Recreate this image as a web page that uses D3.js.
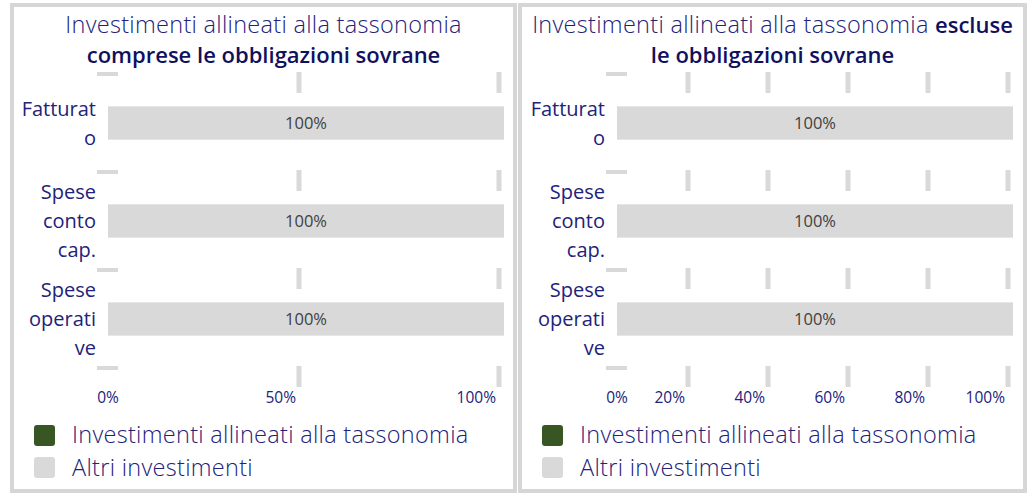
<!DOCTYPE html>
<html>
<head>
<meta charset="utf-8">
<script src="https://cdn.jsdelivr.net/npm/d3@7"></script>
<style>
  body { margin: 0; background: #fff; }
  svg { display: block; }
  text { font-family: "Open Sans", Lato, sans-serif; }
</style>
</head>
<body>
<svg id="chart" width="1031" height="493"></svg>
<script>
var categories = ["Fatturato", "Spese conto cap.", "Spese operative"];
var categoryLines = [["Fatturat", "o"], ["Spese", "conto", "cap."], ["Spese", "operati", "ve"]];
var alignedWithSov = [0, 0, 0];
var otherWithSov = [1, 1, 1];
var alignedNoSov = [0, 0, 0];
var otherNoSov = [1, 1, 1];
var ticksWithSov = [0, 0.5, 1];
var ticksNoSov = [0, 0.2, 0.4, 0.6, 0.8, 1];
var legendLabels = ["Investimenti allineati alla tassonomia", "Altri investimenti"];
var legendColors = ["#375623", "#d9d9d9"];

var navy = "#22227a";
var navyDark = "#10105e";
var grid = "#d9d9d9";

var panels = [
  {
    left: 10, right: 517, plotLeft: 108,
    title: [[["Investimenti allineati alla tassonomia", false]], [["comprese le obbligazioni sovrane", true]]],
    aligned: alignedWithSov, other: otherWithSov, ticks: ticksWithSov
  },
  {
    left: 518, right: 1027, plotLeft: 617,
    title: [[["Investimenti allineati alla tassonomia ", false], ["escluse", true]], [["le obbligazioni sovrane", true]]],
    aligned: alignedNoSov, other: otherNoSov, ticks: ticksNoSov
  }
];

var svg = d3.select("#chart");
var fmt = d3.format(".0%");

function drawPanel(p) {
  var g = svg.append("g");
  var cx = (p.left + p.right) / 2;

  g.append("rect")
    .attr("x", p.left + 2).attr("y", 5)
    .attr("width", p.right - p.left - 4).attr("height", 486)
    .attr("fill", "none").attr("stroke", "#d6d6d6").attr("stroke-width", 4);

  // title, two lines, some parts bold
  p.title.forEach(function (line, i) {
    var t = g.append("text")
      .attr("x", cx).attr("y", 33 + i * 30)
      .attr("text-anchor", "middle");
    line.forEach(function (part) {
      t.append("tspan")
        .text(part[0])
        .attr("fill", part[1] ? navyDark : navy)
        .style("font-size", part[1] ? "22px" : "23.5px")
        .style("letter-spacing", part[1] ? "0px" : "0.3px")
        .style("font-weight", part[1] ? 600 : 300);
    });
  });

  var x = d3.scaleLinear().domain([0, 1]).range([p.plotLeft, p.plotLeft + 396]);
  // excel draws its gridlines a few pixels left of the bars
  var gx = d3.scaleLinear().domain([0, 1]).range([p.plotLeft - 9, p.plotLeft + 391]);
  var y = d3.scaleBand().domain(categories).range([74, 368])
    .paddingInner(0.66).paddingOuter(0.33);

  var bounds = [y.range()[0]];
  categories.forEach(function (c, i) {
    if (i < categories.length - 1) {
      var a = y(c) + y.bandwidth() / 2, b = y(categories[i + 1]) + y.bandwidth() / 2;
      bounds.push((a + b) / 2);
    }
  });
  bounds.push(y.range()[1]);

  // dashed gridlines
  p.ticks.forEach(function (v) {
    bounds.forEach(function (b) {
      if (v === 0) {
        g.append("rect").attr("x", x(0) - 11).attr("y", b - 2)
          .attr("width", 21).attr("height", 4).attr("fill", grid);
      } else {
        g.append("rect").attr("x", gx(v) - 2.5).attr("y", b - 2)
          .attr("width", 5).attr("height", 21).attr("fill", grid);
      }
    });
  });

  // bars
  g.selectAll(".al").data(categories).enter().append("rect")
    .attr("x", x(0))
    .attr("y", function (d) { return y(d); })
    .attr("width", function (d, i) { return x(p.aligned[i]) - x(0); })
    .attr("height", y.bandwidth())
    .attr("fill", legendColors[0]);

  g.selectAll(".ot").data(categories).enter().append("rect")
    .attr("x", function (d, i) { return x(p.aligned[i]); })
    .attr("y", function (d) { return y(d); })
    .attr("width", function (d, i) { return x(p.aligned[i] + p.other[i]) - x(p.aligned[i]); })
    .attr("height", y.bandwidth())
    .attr("fill", legendColors[1]);

  g.selectAll(".lab").data(categories).enter().append("text")
    .attr("x", function (d, i) { return (x(p.aligned[i]) + x(p.aligned[i] + p.other[i])) / 2; })
    .attr("y", function (d) { return y(d) + y.bandwidth() / 2; })
    .attr("dy", "0.36em")
    .attr("text-anchor", "middle")
    .attr("fill", "#404040")
    .style("font-size", "16.5px")
    .text(function (d, i) { return fmt(p.other[i]); });

  // category labels, wrapped like in the original
  categories.forEach(function (c, i) {
    var lines = categoryLines[i];
    var mid = y(c) + y.bandwidth() / 2;
    var t = g.append("text")
      .attr("text-anchor", "end")
      .attr("fill", navy)
      .style("font-size", "20px");
    lines.forEach(function (l, j) {
      t.append("tspan")
        .attr("x", p.plotLeft - 12)
        .attr("y", mid + (j - (lines.length - 1) / 2) * 29)
        .attr("dy", "0.36em")
        .text(l);
    });
  });

  // x tick labels
  g.selectAll(".tick").data(p.ticks).enter().append("text")
    .attr("x", function (v) { return v === 0 ? x(0) : gx(v) - 3; })
    .attr("y", 403)
    .attr("text-anchor", function (v) { return v === 0 ? "middle" : "end"; })
    .attr("fill", navy)
    .style("font-size", "15.5px")
    .text(fmt);

  // legend
  legendLabels.forEach(function (l, i) {
    g.append("rect")
      .attr("x", p.left + 24).attr("y", 425 + i * 32)
      .attr("width", 21).attr("height", 21).attr("rx", 3)
      .attr("fill", legendColors[i]);
    g.append("text")
      .attr("x", p.left + 62).attr("y", 443 + i * 33)
      .attr("fill", navy)
      .style("font-size", "23.5px")
      .style("letter-spacing", "0.3px")
      .style("font-weight", 300)
      .text(l);
  });
}

panels.forEach(drawPanel);
</script>
</body>
</html>
